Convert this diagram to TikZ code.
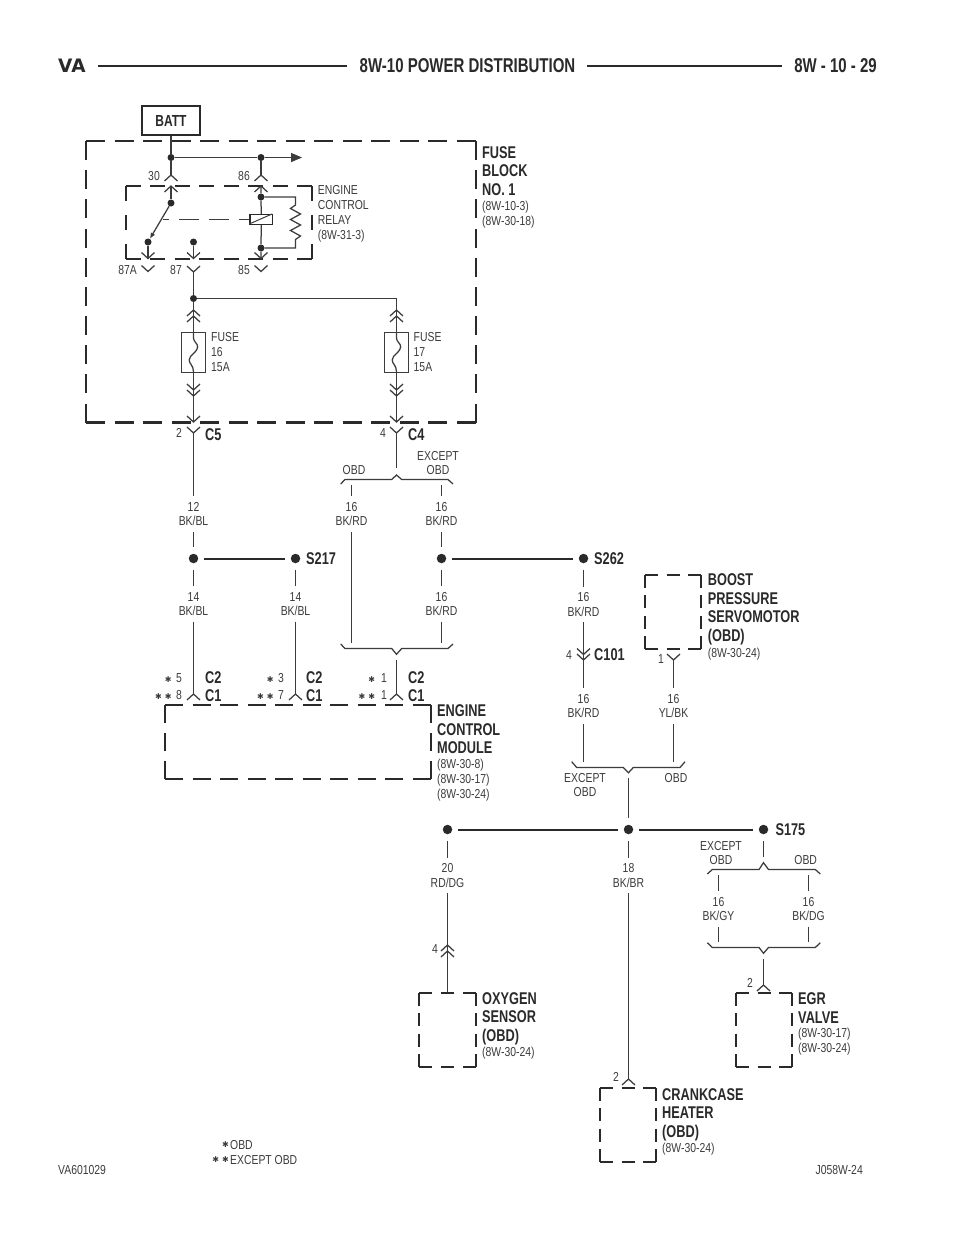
\documentclass[tikz,border=0pt]{standalone}
\usepackage{fontspec}
\usetikzlibrary{arrows.meta}
\setmainfont[FakeStretch=0.8]{Liberation Sans}
\newfontfamily\hdf[FakeStretch=0.75]{Liberation Sans}
\newfontfamily\symf{DejaVu Sans}
\definecolor{ink}{HTML}{2A2A2A}
\definecolor{soft}{HTML}{3C3C3C}
\newcommand{\st}{{\symf\fontsize{8}{8}\selectfont ✱}}
% dashed box: each side starts and ends on a dash, so corners are closed
\newcommand{\dbox}[6]{%
 \pgfmathsetmacro{\wL}{#3-#1}\pgfmathsetmacro{\hL}{#4-#2}%
 \pgfmathsetmacro{\nW}{max(1,round((\wL-#5)/(#5+#6)))}%
 \pgfmathsetmacro{\nH}{max(1,round((\hL-#5)/(#5+#6)))}%
 \pgfmathsetmacro{\gW}{(\wL-#5)/\nW-#5}%
 \pgfmathsetmacro{\gH}{(\hL-#5)/\nH-#5}%
 \draw[boxline,dash pattern=on #5pt off \gW pt] (#1,#2) -- (#3,#2);
 \draw[boxline,dash pattern=on #5pt off \gW pt] (#1,#4) -- (#3,#4);
 \draw[boxline,dash pattern=on #5pt off \gH pt] (#1,#2) -- (#1,#4);
 \draw[boxline,dash pattern=on #5pt off \gH pt] (#3,#2) -- (#3,#4);
}
\tikzset{
 x=1pt,y=-1pt,
 wire/.style={line width=1.25pt,draw=soft,line cap=butt},
 bus/.style={line width=2pt,draw=ink,shorten <=5.5pt,shorten >=5.5pt},
 boxline/.style={line width=2.4pt,draw=ink,line cap=butt},
 txt/.style={inner sep=0pt,text=soft,font=\fontsize{13}{14.8}\selectfont},
 ltxt/.style={txt,anchor=west,align=left},
 rtxt/.style={txt,anchor=east},
 ctxt/.style={txt,align=center},
 wl/.style={txt,align=center,inner ysep=5.5pt},
 bld/.style={inner sep=0pt,text=ink,anchor=west,align=left,font=\fontsize{17}{18.5}\selectfont\hdf\bfseries},
 jdot/.style={circle,fill=ink,inner sep=0pt,minimum size=9.5pt},
 sdot/.style={circle,fill=ink,inner sep=0pt,minimum size=7pt},
 fusebox/.style={draw=soft,line width=1.1pt,minimum width=24pt,minimum height=40pt,inner sep=0pt},
 chevup/.pic={\draw[wire] (-6.5,6) -- (0,0) -- (6.5,6);},
 chevdn/.pic={\draw[wire] (-6.5,-6) -- (0,0) -- (6.5,-6);},
}
\begin{document}
\begin{tikzpicture}
\useasboundingbox (0,0) rectangle (960,1242);
\fill[white] (0,0) rectangle (960,1242);

% ---------- header and footer
\node[bld,font=\symf\fontsize{18.5}{20}\selectfont\bfseries] (hVA) at (58,66) {VA};
\node[bld,anchor=center,font=\fontsize{20}{22}\selectfont\hdf\bfseries] (hTitle) at (467.5,66) {8W-10 POWER DISTRIBUTION};
\node[bld,anchor=east,font=\fontsize{20}{22}\selectfont\hdf\bfseries] (hPage) at (877,66) {8W - 10 - 29};
\draw[line width=2.4pt,draw=ink] (98,66) -- (347,66);
\draw[line width=2.4pt,draw=ink] (587,66) -- (782,66);
\node[ltxt] (fL) at (58,1170) {VA601029};
\node[rtxt] (fR) at (863,1170) {J058W-24};
\node[ltxt] (fOBD) at (230,1145) {OBD};
\node[ltxt] (fEX) at (230,1160) {EXCEPT OBD};
\node[rtxt] (fs1) at (229,1145) {\st};
\node[rtxt] (fs2) at (229,1160) {\st\hspace{3pt}\st};

% ---------- dashed component outlines
\dbox{86}{141}{476}{422.5}{19}{10}
\dbox{125.7}{186}{312}{259}{15}{8.5}
\dbox{165}{705}{430.7}{779}{18}{9}
\dbox{645}{575}{701}{649}{13}{9}
\dbox{419}{993}{476}{1067}{13}{9}
\dbox{736}{993}{792}{1067}{13}{9}
\dbox{600}{1088}{656}{1162}{13}{9}

% ---------- fuse block
\node[draw=ink,line width=2.3pt,minimum width=58pt,minimum height=29pt,inner sep=0pt,text=ink,font=\fontsize{16}{18}\selectfont\hdf\bfseries] (batt) at (171,120.5) {BATT};
\node[sdot] (j30) at (171,157.5) {};
\node[sdot] (j86) at (261,157.5) {};
\coordinate (arrowEnd) at (302,157.5);
\coordinate (p30) at (171,175);
\coordinate (p86) at (261,175);
\coordinate (r30) at (171,186);
\coordinate (r86) at (261,186);
\draw[wire] (batt) -- (j30);
\draw[wire,-{Triangle[length=11pt,width=9pt]}] (j30) -- (j86) -- (arrowEnd);
\draw[wire] (j30) -- (p30);
\draw[wire] (j86) -- (p86);
\pic at (p30) {chevup};
\pic at (p86) {chevup};
\pic at (r30) {chevup};
\pic at (r86) {chevup};
\node[rtxt] (n30) at (160,176) {30};
\node[rtxt] (n86) at (250,176) {86};

% relay
\node[sdot] (sw1) at (171,203) {};
\node[sdot] (sw2) at (148,242) {};
\node[sdot] (sw3) at (193.5,242) {};
\node[sdot] (c1) at (261,197) {};
\node[sdot] (c2) at (261,248) {};
\node[draw=ink,line width=1.1pt,minimum width=22.7pt,minimum height=10pt,inner sep=0pt] (coil) at (261.3,219.5) {};
\coordinate (r87A) at (148,258.5);
\coordinate (r87) at (193.5,258.5);
\coordinate (r85) at (261,258.5);
\draw[wire] (r30) -- (sw1);
\draw[wire] (r86) -- (c1) -- (coil) -- (c2) -- (r85);
\draw[wire,-{Latex[length=6pt,width=5pt]}] (sw1) -- (sw2);
\draw[wire] (sw2) -- (r87A);
\draw[wire] (sw3) -- (r87);
\draw[line width=1pt,draw=soft,dash pattern=on 20pt off 10pt,dash phase=10pt] (coil.west) -- (162.7,219.5);
\draw[line width=1pt,draw=soft] (coil.north west) ++(0,10) -- ++(22.7,-10);
\draw[wire] (c1) -- (295.5,197) -- (295.5,205) -- (290.5,208.5) -- (300.5,214) -- (290.5,219.5) -- (300.5,225) -- (290.5,230.5) -- (300.5,236) -- (295.5,239.5) -- (295.5,248) -- (c2);
\pic at (r87A) {chevdn};
\pic at (r87) {chevdn};
\pic at (r85) {chevdn};
\coordinate (y87A) at (148,271.5);
\coordinate (y87) at (193.5,272);
\coordinate (y85) at (261,271.5);
\pic at (y87A) {chevdn};
\pic at (y87) {chevdn};
\pic at (y85) {chevdn};
\node[rtxt] (n87A) at (137,270) {87A};
\node[rtxt] (n87) at (182,270) {87};
\node[rtxt] (n85) at (250,270) {85};

% fuses
\node[sdot] (j87) at (193.5,298.5) {};
\node[fusebox] (f16) at (193.5,352.5) {};
\node[fusebox] (f17) at (396.5,352.5) {};
\coordinate (c5in) at (193.5,422);
\coordinate (c4in) at (396.5,422);
\coordinate (c5out) at (193.5,433);
\coordinate (c4out) at (396.5,433);
\draw[wire] (y87) -- (j87);
\draw[wire] (j87) -- (f16);
\draw[wire] (j87) -| (f17);
\draw[wire] (f16) -- (c5in);
\draw[wire] (f17) -- (c4in);
\draw[wire] (193.5,333) -- (193.5,338) .. controls (193.5,342) and (197.7,343) .. (197.7,347) .. controls (197.7,352) and (189.2,355) .. (189.2,360) .. controls (189.2,364) and (193.5,365) .. (193.5,372);
\draw[wire] (396.5,333) -- (396.5,338) .. controls (396.5,342) and (400.7,343) .. (400.7,347) .. controls (400.7,352) and (392.2,355) .. (392.2,360) .. controls (392.2,364) and (396.5,365) .. (396.5,372);
\foreach \xx in {193.5,396.5}{
 \pic at (\xx,310) {chevup};
 \pic at (\xx,316) {chevup};
 \pic at (\xx,390) {chevdn};
 \pic at (\xx,396) {chevdn};
 \pic at (\xx,422) {chevdn};
 \pic at (\xx,433) {chevdn};
}
\node[ltxt] (t16) at (211,352) {FUSE\\16\\15A};
\node[ltxt] (t17) at (413.5,352) {FUSE\\17\\15A};
\node[bld] (tFB) at (482,170.7) {FUSE\\BLOCK\\NO. 1};
\node[ltxt] (rFB) at (482,215) {(8W-10-3)\\(8W-30-18)};
\node[ltxt] (tRel) at (317.7,214) {ENGINE\\CONTROL\\RELAY\\(8W-31-3)};

% ---------- C5 / S217
\node[rtxt] (n2) at (182,433) {2};
\node[bld] (tC5) at (205,435) {C5};
\node[rtxt] (n4) at (386,433) {4};
\node[bld] (tC4) at (408,435) {C4};
\node[wl] (w12) at (193.5,514) {12\\BK/BL};
\node[jdot] (j217) at (193.5,558.5) {};
\node[jdot] (s217) at (295.5,558.5) {};
\node[wl] (w14a) at (193.5,604) {14\\BK/BL};
\node[wl] (w14b) at (295.5,604) {14\\BK/BL};
\coordinate (e5) at (193.5,694);
\coordinate (e3) at (295.5,694);
\draw[wire] (c5out) -- (w12);
\draw[wire,shorten >=6.5pt] (w12) -- (j217);
\draw[bus] (j217) -- (s217);
\draw[wire,shorten <=6.5pt] (j217) -- (w14a);
\draw[wire,shorten <=6.5pt] (s217) -- (w14b);
\draw[wire] (w14a) -- (e5);
\draw[wire] (w14b) -- (e3);
\pic at (e5) {chevup};
\pic at (e3) {chevup};
\node[bld] (tS217) at (306,558.5) {S217};

% ---------- C4 branch
\coordinate (brA) at (396.5,475);
\coordinate (brT) at (396.5,468);
\draw[wire] (c4out) -- (brT);
\draw[wire] (340.7,484) -- (345,479.5) -- (391.7,479.5) -- (brA) -- (401.7,479.5) -- (448,479.5) -- (453,484);
\node[ctxt] (tOBD1) at (354,470.5) {OBD};
\node[ctxt] (tEX1) at (438,463) {EXCEPT\\OBD};
\coordinate (a1) at (351.5,485);
\coordinate (a2) at (441.5,485);
\coordinate (b1) at (351.5,642.7);
\coordinate (b2) at (441.5,642.7);
\node[wl] (w16a) at (351.5,514) {16\\BK/RD};
\node[wl] (w16b) at (441.5,514) {16\\BK/RD};
\node[jdot] (j262) at (441.5,558.5) {};
\node[jdot] (s262) at (583.5,558.5) {};
\node[wl] (w16c) at (441.5,604) {16\\BK/RD};
\draw[wire] (a1) -- (w16a);
\draw[wire] (w16a) -- (b1);
\draw[wire] (a2) -- (w16b);
\draw[wire,shorten >=6.5pt] (w16b) -- (j262);
\draw[bus] (j262) -- (s262);
\draw[wire,shorten <=6.5pt] (j262) -- (w16c);
\draw[wire] (w16c) -- (b2);
\draw[wire] (340.7,644) -- (345,648.5) -- (391.7,648.5) -- (396.5,654.3) -- (401.7,648.5) -- (448,648.5) -- (453,644);
\coordinate (e1t) at (396.5,660);
\coordinate (e1) at (396.5,694);
\draw[wire] (e1t) -- (e1);
\pic at (e1) {chevup};
\node[bld] (tS262) at (594,558.5) {S262};

% pin labels at module
\node[rtxt] (p5) at (182,678) {\st\hspace{4.5pt}5};
\node[rtxt] (p8) at (182,695) {\st\hspace{3pt}\st\hspace{4.5pt}8};
\node[rtxt] (p3) at (284,678) {\st\hspace{4.5pt}3};
\node[rtxt] (p7) at (284,695) {\st\hspace{3pt}\st\hspace{4.5pt}7};
\node[rtxt] (p1a) at (387,678) {\st\hspace{6pt}1};
\node[rtxt] (p1b) at (387,695) {\st\hspace{3pt}\st\hspace{6pt}1};
\node[bld] (tC2a) at (205,686.5) {C2\\C1};
\node[bld] (tC2b) at (306,686.5) {C2\\C1};
\node[bld] (tC2c) at (408,686.5) {C2\\C1};
\node[bld] (tECM) at (437,729.5) {ENGINE\\CONTROL\\MODULE};
\node[ltxt] (rECM) at (437,780) {(8W-30-8)\\(8W-30-17)\\(8W-30-24)};

% ---------- S262 branch, boost servomotor
\node[wl] (w16d) at (583.5,604.5) {16\\BK/RD};
\coordinate (m1) at (583.5,660);
\draw[wire,shorten <=6.5pt] (s262) -- (w16d);
\draw[wire] (w16d) -- (m1);
\pic at (583.5,654.5) {chevdn};
\pic at (583.5,660) {chevdn};
\node[rtxt] (n4b) at (572,655) {4};
\node[bld] (tC101) at (594,655) {C101};
\node[wl] (w16e) at (583.5,706) {16\\BK/RD};
\node[wl] (wYL) at (673.5,706) {16\\YL/BK};
\coordinate (yl) at (673.5,660);
\coordinate (m2) at (583.5,762);
\coordinate (m3) at (673.5,762);
\draw[wire] (m1) -- (w16e);
\draw[wire] (w16e) -- (m2);
\draw[wire] (yl) -- (wYL);
\draw[wire] (wYL) -- (m3);
\pic at (yl) {chevdn};
\node[rtxt] (n1) at (664,659) {1};
\node[bld] (tBoost) at (707.7,609.5) {BOOST\\PRESSURE\\SERVOMOTOR\\(OBD)};
\node[ltxt] (rBoost) at (707.7,654) {(8W-30-24)};
\draw[wire] (571.7,761.7) -- (576.7,767.5) -- (623.3,767.5) -- (628.5,772.7) -- (633.3,767.5) -- (680,767.5) -- (685,761.7);
\node[ctxt] (tEX2) at (585,785) {EXCEPT\\OBD};
\node[ctxt] (tOBD2) at (676,778) {OBD};

% ---------- lower bus
\coordinate (g1) at (628.5,778);
\coordinate (g2) at (628.5,818);
\node[jdot] (jO2) at (447.5,829.5) {};
\node[jdot] (jM) at (628.5,829.5) {};
\node[jdot] (s175) at (763.5,829.5) {};
\draw[wire] (g1) -- (g2);
\draw[bus] (jO2) -- (jM);
\draw[bus] (jM) -- (s175);
\node[bld] (tS175) at (775.3,829.5) {S175};

\node[wl] (w20) at (447.5,875.5) {20\\RD/DG};
\coordinate (o2) at (447.5,992);
\draw[wire,shorten <=6.5pt] (jO2) -- (w20);
\draw[wire] (w20) -- (o2);
\pic at (447.5,945) {chevup};
\pic at (447.5,951) {chevup};
\node[rtxt] (n4c) at (438,949) {4};
\node[bld] (tO2) at (482,1018.5) {OXYGEN\\SENSOR\\(OBD)};
\node[ltxt] (rO2) at (482,1053) {(8W-30-24)};

\node[wl] (w18) at (628.5,875.5) {18\\BK/BR};
\coordinate (cr) at (628.5,1079);
\draw[wire,shorten <=6.5pt] (jM) -- (w18);
\draw[wire] (w18) -- (cr);
\pic at (cr) {chevup};
\node[rtxt] (n2c) at (619,1077) {2};
\node[bld] (tCr) at (662,1114.5) {CRANKCASE\\HEATER\\(OBD)};
\node[ltxt] (rCr) at (662,1149) {(8W-30-24)};

% ---------- S175 branch
\coordinate (k1) at (763.5,857);
\draw[wire,shorten <=6.5pt] (s175) -- (k1);
\draw[wire] (707.3,874) -- (712.3,869.5) -- (759,869.5) -- (763.5,862.7) -- (768.5,869.5) -- (815.3,869.5) -- (820.3,874);
\node[ctxt] (tEX3) at (721,853) {EXCEPT\\OBD};
\node[ctxt] (tOBD3) at (805.7,860) {OBD};
\coordinate (h1) at (718.5,875);
\coordinate (h2) at (808.5,875);
\coordinate (h3) at (718.5,941.7);
\coordinate (h4) at (808.5,941.7);
\node[wl] (wGY) at (718.5,909) {16\\BK/GY};
\node[wl] (wDG) at (808.5,909) {16\\BK/DG};
\draw[wire] (h1) -- (wGY);
\draw[wire] (wGY) -- (h3);
\draw[wire] (h2) -- (wDG);
\draw[wire] (wDG) -- (h4);
\draw[wire] (707.3,942.7) -- (712.3,947.5) -- (759,947.5) -- (763.5,953.3) -- (768.5,947.5) -- (815.3,947.5) -- (820.3,942.7);
\coordinate (k2) at (763.5,959.3);
\coordinate (k3) at (763.5,985);
\draw[wire] (k2) -- (k3);
\pic at (k3) {chevup};
\node[rtxt] (n2d) at (753,983) {2};
\node[bld] (tEGR) at (798,1008) {EGR\\VALVE};
\node[ltxt] (rEGR) at (798,1042) {(8W-30-17)\\(8W-30-24)};
\end{tikzpicture}
\end{document}
